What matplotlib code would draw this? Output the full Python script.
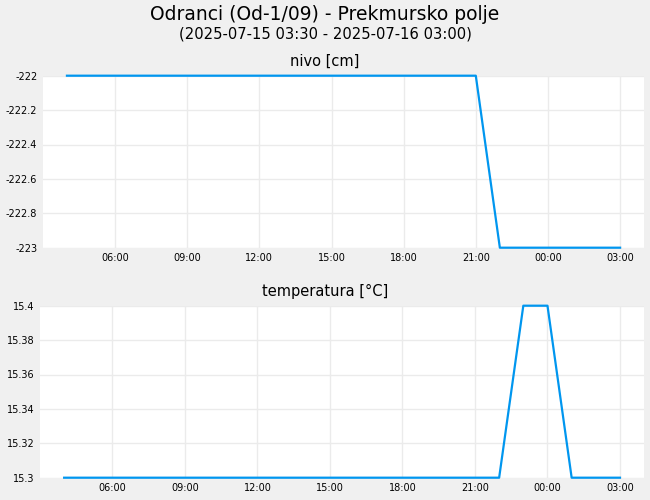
import numpy as np
import pandas as pd
import matplotlib
matplotlib.use("Agg")
import matplotlib.pyplot as plt
import matplotlib.dates as mdates
from matplotlib.ticker import FuncFormatter

# ── data (hourly readings) ────────────────────────────────────────────────────
times = pd.date_range("2025-07-15 04:00", "2025-07-16 03:00", freq="h")
nivo = [-222] * 18 + [-223] * 6
temperatura = [15.3] * 19 + [15.4, 15.4] + [15.3] * 3

nivo_ticks = [-223, -222.8, -222.6, -222.4, -222.2, -222]
temp_ticks = [15.3, 15.32, 15.34, 15.36, 15.38, 15.4]
x_ticks = pd.date_range("2025-07-15 06:00", "2025-07-16 03:00", freq="3h")

x_start = pd.Timestamp("2025-07-15 03:00")
x_end = pd.Timestamp("2025-07-16 04:00")

line_color = "#0096ef"
grid_color = "#ebebeb"
bg = "#f0f0f0"

plt.rcParams["font.family"] = ["DejaVu Sans"]

fig = plt.figure(figsize=(6.5, 5), dpi=100, facecolor=bg)
fig.text(0.5, 0.972, "Odranci (Od-1/09) - Prekmursko polje", ha="center", va="center", fontsize=13.5)
fig.text(0.5, 0.932, "(2025-07-15 03:30 - 2025-07-16 03:00)", ha="center", va="center", fontsize=10.6)

ax1 = fig.add_axes([0.066, 0.5046, 0.925, 0.344])
ax2 = fig.add_axes([0.0615, 0.0446, 0.9295, 0.344])

fmt = FuncFormatter(lambda v, p: f"{v:g}".replace("\u2212", "-"))

for ax, vals, ticks, title in [
    (ax1, nivo, nivo_ticks, "nivo [cm]"),
    (ax2, temperatura, temp_ticks, "temperatura [°C]"),
]:
    ax.set_facecolor("white")
    ax.plot(times, vals, color=line_color, lw=1.6, clip_on=False, zorder=3)
    ax.set_xlim(x_start, x_end)
    ax.set_ylim(ticks[0], ticks[-1])
    ax.set_yticks(ticks)
    ax.yaxis.set_major_formatter(fmt)
    ax.set_xticks(x_ticks)
    ax.xaxis.set_major_formatter(mdates.DateFormatter("%H:%M"))
    ax.grid(True, color=grid_color, lw=1)
    ax.set_axisbelow(True)
    for s in ax.spines.values():
        s.set_visible(False)
    ax.tick_params(length=0, labelsize=7)
    ax.tick_params(axis="y", pad=4)
    ax.tick_params(axis="x", pad=4)
    # titles are centred on the figure, not on the axes
    pos = ax.get_position()
    ax.set_title(title, fontsize=10.5, pad=7, x=(0.5 - pos.x0) / pos.width)

fig.savefig("out.png", dpi=100, facecolor=bg)
